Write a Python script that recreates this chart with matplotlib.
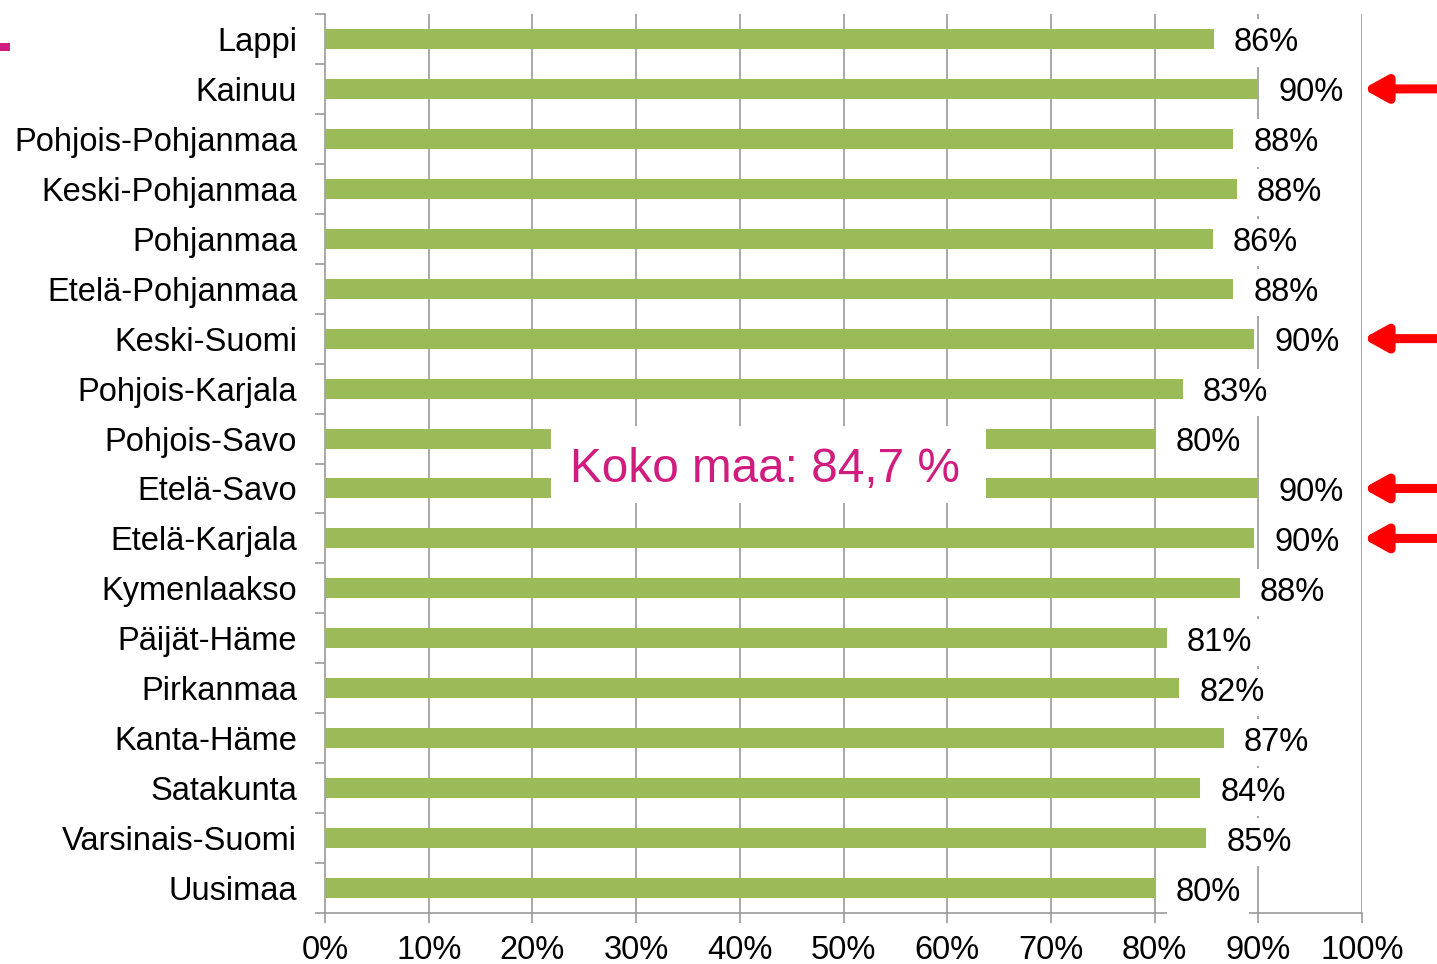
import matplotlib
matplotlib.use("Agg")
import matplotlib.pyplot as plt
from matplotlib.patches import Rectangle
import numpy as np

plt.rcParams['font.family'] = ['Liberation Sans', 'DejaVu Sans']

regions = ["Lappi", "Kainuu", "Pohjois-Pohjanmaa", "Keski-Pohjanmaa", "Pohjanmaa",
           "Etelä-Pohjanmaa", "Keski-Suomi", "Pohjois-Karjala", "Pohjois-Savo",
           "Etelä-Savo", "Etelä-Karjala", "Kymenlaakso", "Päijät-Häme", "Pirkanmaa",
           "Kanta-Häme", "Satakunta", "Varsinais-Suomi", "Uusimaa"]
values = [85.7, 90.0, 87.6, 87.9, 85.6, 87.6, 89.6, 82.7, 80.1, 90.0, 89.6,
          88.2, 81.2, 82.4, 86.7, 84.4, 85.0, 80.1]
labels = ["86%", "90%", "88%", "88%", "86%", "88%", "90%", "83%", "80%", "90%",
          "90%", "88%", "81%", "82%", "87%", "84%", "85%", "80%"]
highlighted = ["Kainuu", "Keski-Suomi", "Etelä-Savo", "Etelä-Karjala"]
national_text = "Koko maa: 84,7 %"
xticks = list(range(0, 101, 10))
xticklabels = [f"{t}%" for t in xticks]

BAR = '#9BBB59'
GRID = '#9A9A9A'
MAGENTA = '#CF1C7E'
FS = 23.5

fig = plt.figure(figsize=(14.37, 9.64), dpi=100)
ax = fig.add_axes([325/1437, 1-913/964, (1362-325)/1437, (913-14)/964])

y = np.arange(len(regions))
ax.barh(y, values, height=0.4, color=BAR, zorder=2)
ax.set_xlim(0, 100)
ax.set_ylim(len(regions)-0.5, -0.5)

for xv in xticks[1:]:
    ax.axvline(xv, color=GRID, lw=1.2, zorder=1)

for sp in ['top', 'right']:
    ax.spines[sp].set_visible(False)
for sp in ['left', 'bottom']:
    ax.spines[sp].set_color(GRID)
    ax.spines[sp].set_linewidth(1.2)
    ax.spines[sp].set_zorder(1)

ax.set_xticks(xticks)
ax.set_xticklabels(xticklabels, fontsize=FS)
ax.tick_params(axis='x', direction='out', length=7, width=1.2, color=GRID, pad=8.5)

ax.set_yticks(y)
ax.set_yticklabels(regions, fontsize=FS)
ax.tick_params(axis='y', which='major', length=0, pad=20)
ax.set_yticks(np.arange(-0.5, len(regions)), minor=True)
ax.tick_params(axis='y', which='minor', direction='out', length=7, width=1.2, color=GRID)

for yi, v, lab in zip(y, values, labels):
    ax.annotate(lab, xy=(v, yi), xytext=(20, -4), textcoords='offset pixels',
                ha='left', va='center', fontsize=FS, zorder=4,
                bbox=dict(boxstyle='square,pad=0.25', fc='white', ec='none'))

# national average box
ax.add_patch(Rectangle((21.8, 7.75), 63.7-21.8, 9.29-7.75, facecolor='white',
                       edgecolor='none', zorder=3))
ax.text(42.4, 8.62, national_text, ha='center', va='center', fontsize=34.4,
        color=MAGENTA, zorder=5)

# arrows
for name in highlighted:
    yi = regions.index(name)
    ax.annotate('', xy=(100.1, yi), xytext=(108.0, yi),
                arrowprops=dict(arrowstyle='-|>,head_length=1.35,head_width=0.75',
                                color='red', lw=6.5, shrinkA=0, shrinkB=0),
                annotation_clip=False, zorder=6)

# small magenta dash top-left
fig.patches.append(Rectangle((0, 1-51/964), 10/1437, 8/964, transform=fig.transFigure,
                             facecolor=MAGENTA, edgecolor='none'))

fig.savefig("out.png", dpi=100)
